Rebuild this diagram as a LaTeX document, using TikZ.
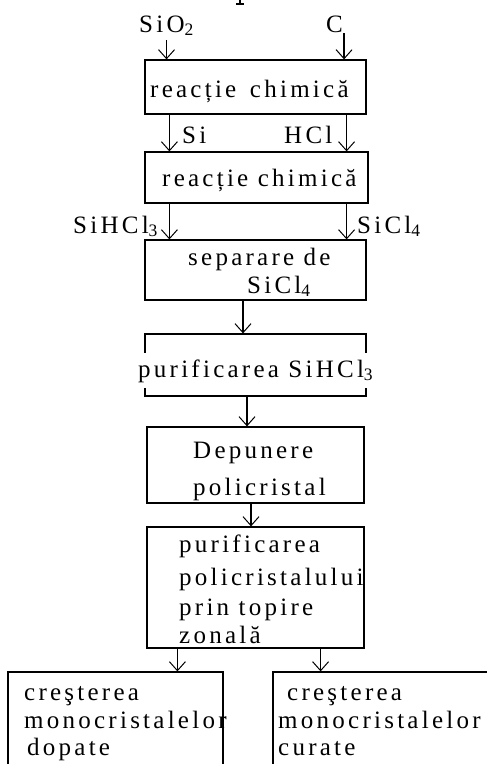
\documentclass[tikz,border=0pt]{standalone}
\usepackage{fontspec}
\setmainfont{Liberation Serif}[LetterSpace=13]
\usetikzlibrary{arrows.meta}
\tikzset{
  box/.style={draw, rectangle, inner sep=0pt, line width=1.2pt},
  lbl/.style={anchor=base west, inner sep=0pt, font=\fontsize{25}{28}\selectfont},
  arr/.style={line width=1.2pt, -{Straight Barb[length=9pt,width=16pt,line width=1pt]}},
}
\newcommand{\rows}[1]{\begin{tabular}[t]{@{}l@{}}#1\end{tabular}}
\begin{document}
\begin{tikzpicture}[x=1pt,y=-1pt]
\useasboundingbox (0,0) rectangle (487,764);
% visible stub of a glyph cut by the top edge
\draw[line width=1.2pt] (240,0) -- (240,4) (236,4) -- (244,4);
% boxes
\node[box, minimum width=221pt, minimum height=54pt]  (b1) at (255.5,87) {};
\node[box, minimum width=223pt, minimum height=51pt]  (b2) at (256.5,177.5) {};
\node[box, minimum width=221pt, minimum height=60pt]  (b3) at (255.5,270) {};
\node[box, minimum width=221pt, minimum height=62pt]  (b4) at (255.5,365) {};
\node[box, minimum width=217pt, minimum height=76pt]  (b5) at (255.5,465) {};
\node[box, minimum width=217pt, minimum height=121pt] (b6) at (255.5,587.5) {};
\node[box, minimum width=215pt, minimum height=108pt] (b7) at (115.5,726) {};
\node[box, minimum width=222pt, minimum height=108pt] (b8) at (384,726) {};
% texts in boxes
\node[lbl] (t1) at (150,97) {reacție\, chimică};
\node[lbl] (t2) at (162,186) {reacție chimică};
\node[lbl] (t3) at (188,265) {\rows{separare de\\\hspace*{59pt}SiCl\textsubscript{4}}};
\node[lbl, fill=white, inner ysep=6pt] (t4) at (138,377) {purificarea SiHCl\textsubscript{3}};
\node[lbl] (t5) at (193,458) {\rows{Depunere\\[9pt]policristal}};
\node[lbl] (t6) at (179,552) {\rows{purificarea\\[5pt]policristalului\\[2pt]prin topire\\zonală}};
\node[lbl] (t7) at (24,700) {\rows{creşterea\\monocristalelor\\[-0.5pt]\hspace*{3pt}dopate}};
\node[lbl] (t8) at (278,700) {\rows{\hspace*{9pt}creşterea\\monocristalelor\\[-0.5pt]curate}};
% input / intermediate labels
\node[lbl] (lSiO2) at (139,32) {SiO\textsubscript{2}};
\node[lbl] (lC) at (326,32) {C};
\node[lbl] (lSi) at (182,143) {Si};
\node[lbl] (lHCl) at (284,143) {HCl};
\node[lbl] (lSiHCl) at (73,233) {SiHCl\textsubscript{3}};
\node[lbl] (lSiCl) at (357,233) {SiCl\textsubscript{4}};
% connectors
\draw[arr] ([yshift=-4pt]lSiO2.south) -- (lSiO2.south |- b1.north);
\draw[arr] ([xshift=1pt,yshift=-1pt]lC.south east) -- ([xshift=1pt]lC.south east |- b1.north);
\draw[arr] ([xshift=25pt]b1.south west) -- ([xshift=25pt]b1.south west |- b2.north);
\draw[arr] ([xshift=-20pt]b1.south east) -- ([xshift=-20pt]b1.south east |- b2.north);
\draw[arr] ([xshift=25pt]b2.south west) -- ([xshift=25pt]b2.south west |- b3.north);
\draw[arr] ([xshift=-22pt]b2.south east) -- ([xshift=-22pt]b2.south east |- b3.north);
\draw[arr] ([xshift=-12.5pt]b3.south) -- ([xshift=-12.5pt]b3.south |- b4.north);
\draw[arr] ([xshift=-8.5pt]b4.south) -- ([xshift=-8.5pt]b4.south |- b5.north);
\draw[arr] ([xshift=-4.5pt]b5.south) -- ([xshift=-4.5pt]b5.south |- b6.north);
\draw[arr] ([xshift=31pt]b6.south west) -- ([xshift=31pt]b6.south west |- b7.north);
\draw[arr] ([xshift=-44pt]b6.south east) -- ([xshift=-44pt]b6.south east |- b8.north);
\end{tikzpicture}
\end{document}
